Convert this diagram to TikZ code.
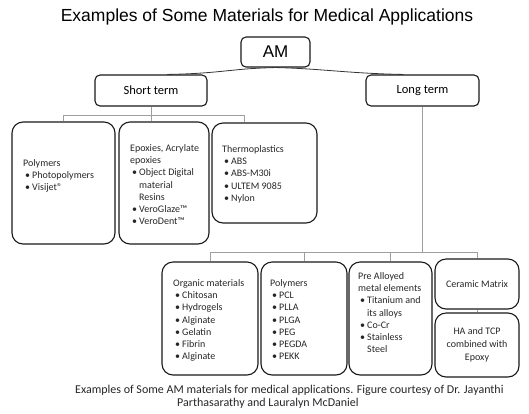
\documentclass[tikz,border=0pt]{standalone}
\usepackage{fontspec}
\setmainfont{Carlito}
\newfontfamily\arialf{Liberation Sans}
\usetikzlibrary{calc}
\newcommand\bul{\hspace*{2pt}\makebox[7pt][l]{•}}
\newcommand\ind{\hspace*{9pt}}
\newcommand\blist[1]{\begin{tabular}[t]{@{}l@{}}#1\end{tabular}}
\begin{document}
\begin{tikzpicture}[x=1pt,y=-1pt,
  box/.style={draw=black!90, line width=1.1pt, rounded corners=11pt, inner sep=0pt},
  smallbox/.style={draw=black!90, line width=1.1pt, rounded corners=5pt, inner sep=0pt},
  link/.style={draw=gray!75, line width=0.7pt},
  amlink/.style={draw=black!80, line width=0.8pt},
  txt/.style={inner sep=0pt, anchor=base west, font=\fontsize{10}{12.2}\selectfont, text=black!85},
  ctxt/.style={inner sep=0pt, align=center, font=\fontsize{10}{13}\selectfont, text=black!85},
  captxt/.style={inner sep=0pt, anchor=base west, font=\fontsize{12}{13}\selectfont, text=black!85},
]
\useasboundingbox (0,0) rectangle (529,413);

\node[font=\arialf\fontsize{17.5}{20}\selectfont] (title) at (267,17) {Examples of Some Materials for Medical Applications};

% top levels
\node[smallbox, minimum width=69, minimum height=30, font=\arialf\fontsize{17}{20}\selectfont] (am) at (275.5,52) {AM};
\node[smallbox, minimum width=112, minimum height=31, font=\fontsize{12.5}{14}\selectfont] (short) at (151,90.5) {Short term};
\node[smallbox, minimum width=113, minimum height=31, font=\fontsize{12.5}{14}\selectfont] (long) at (422.5,90.5) {Long term};

% short term boxes
\node[box, minimum width=103, minimum height=122] (b1) at (63.5,183) {};
\node[box, minimum width=90, minimum height=122] (b2) at (164,183) {};
\node[box, minimum width=105, minimum height=100] (b3) at (264.5,173) {};

% long term boxes
\node[box, minimum width=96, minimum height=113] (c1) at (210,318.5) {};
\node[box, minimum width=86, minimum height=113] (c2) at (304,318.5) {};
\node[box, minimum width=83, minimum height=113] (c3) at (390.5,318.5) {};
\node[box, minimum width=84, minimum height=50] (c4) at (477,284) {};
\node[box, minimum width=84, minimum height=64] (c5) at (477,345) {};

% texts
\node[txt] (t1) at (23,166.5) {\blist{Polymers\\ \bul Photopolymers\\ \bul Visijet®}};
\node[txt] (t2) at (130,151.5) {\blist{Epoxies, Acrylate\\ epoxies\\ \bul Object Digital\\ \ind material\\ \ind Resins\\ \bul VeroGlaze™\\ \bul VeroDent™}};
\node[txt] (t3) at (222,152.5) {\blist{Thermoplastics\\ \bul ABS\\ \bul ABS-M30i\\ \bul ULTEM 9085\\ \bul Nylon}};
\node[txt] (u1) at (173,286.5) {\blist{Organic materials\\ \bul Chitosan\\ \bul Hydrogels\\ \bul Alginate\\ \bul Gelatin\\ \bul Fibrin\\ \bul Alginate}};
\node[txt] (u2) at (270,286.5) {\blist{Polymers\\ \bul PCL\\ \bul PLLA\\ \bul PLGA\\ \bul PEG\\ \bul PEGDA\\ \bul PEKK}};
\node[txt] (u3) at (358,279.5) {\blist{Pre Alloyed\\ metal elements\\ \bul Titanium and\\ \ind its alloys\\ \bul Co-Cr\\ \bul Stainless\\ \ind Steel}};
\node[ctxt] (u4) at (c4.center) {Ceramic Matrix};
\node[ctxt] (u5) at (c5.center) {HA and TCP\\ combined with\\ Epoxy};

% connectors
\draw[amlink] (am.south) .. controls +(-45,1) and +(55,-1) .. ($(short.north)+(16,0)$);
\draw[amlink] (am.south) .. controls +(45,1) and +(-55,-1) .. ($(long.north)+(-19,0)$);

\coordinate (hs) at ($(short.south)+(0,9)$);
\draw[link] (short.south) -- (short.south |- b2.north);
\draw[link] (b1.north) |- (hs) -| ($(b3.north west)!0.31!(b3.north east)$);

\coordinate (hl) at ($(long.south)+(0,146)$);
\draw[link] (long.south) -- (hl);
\draw[link] (c1.north) |- (hl) -| (c4.north);
\draw[link] (c2.north) -- (c2.north |- hl);
\draw[link] (c3.north) -- (c3.north |- hl);
\draw[link] (c4.south) -- (c5.north);

% caption
\node[captxt] (cap1) at (75,393) {Examples of Some AM materials for medical applications. Figure courtesy of Dr. Jayanthi};
\node[captxt] (cap2) at (177,406) {Parthasarathy and Lauralyn McDaniel};
\end{tikzpicture}
\end{document}
